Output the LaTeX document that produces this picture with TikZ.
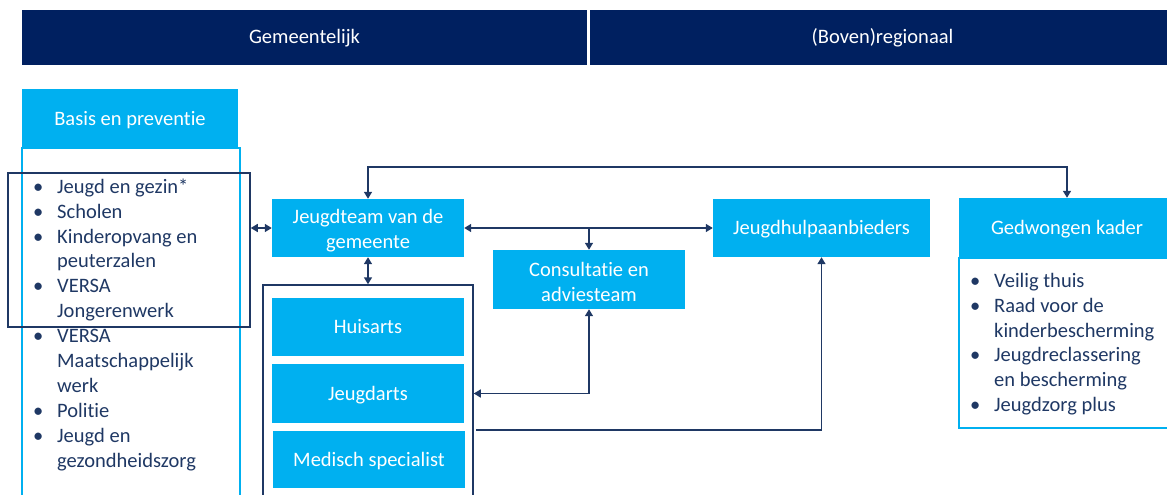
\documentclass[tikz,border=0pt]{standalone}
\usepackage{fontspec}
\setmainfont{Carlito}[Ligatures=NoCommon]
\usetikzlibrary{arrows.meta}
\definecolor{cy}{HTML}{00B0F0}
\definecolor{nv}{HTML}{002060}
\definecolor{ln}{HTML}{1F3864}
\newcommand\bitem[1]{\makebox[24pt][l]{•}#1}
\newcommand\bcont[1]{\hspace*{24pt}#1}
\newcommand\fstline{\rule{0pt}{19.5pt}}
\tikzset{
  fnt/.style={font=\fontsize{20.5}{24.9}\selectfont},
  cboxm/.style={fill=cy, draw=none, text=white, fnt, align=center, inner sep=0},
  cbox/.style={cboxm, text height=16pt, text depth=3pt},
  hbar/.style={fill=nv, text=white, fnt, inner sep=0, text height=16pt, text depth=3pt},
  frame/.style={draw=ln, line width=1.5pt, inner sep=0},
  lbox/.style={draw=cy, line width=2pt, inner sep=0},
  conn/.style={draw=ln, line width=1.5pt},
  ah/.tip={Triangle[width=8pt,length=7pt]},
  lst/.style={fnt, text=ln, align=left, anchor=north west, inner sep=0},
}
\begin{document}
\begin{tikzpicture}[x=1pt,y=-1pt]
\useasboundingbox (0,0) rectangle (1167,495);
% header bars
\node[hbar, minimum width=565, minimum height=55] (hl) at (304.5,37.5) {Gemeentelijk};
\node[hbar, minimum width=585, minimum height=55] (hr) at (882.5,37.5) {(Boven)regionaal};
% basis en preventie
\node[lbox, minimum width=218, minimum height=352] (bl) at (131,324) {};
\node[cbox, minimum width=216, minimum height=59] (bp) at (130,118.5) {Basis en preventie};
\node[lst] (bt) at (33,175.6) {\strut\bitem{Jeugd en gezin*}\\
\strut\bitem{Scholen}\\
\strut\bitem{Kinderopvang en}\\
\strut\bcont{peuterzalen}\\
\strut\bitem{VERSA}\\
\strut\bcont{Jongerenwerk}\\
\strut\bitem{VERSA}\\
\strut\bcont{Maatschappelijk}\\
\strut\bcont{werk}\\
\strut\bitem{Politie}\\
\strut\bitem{Jeugd en}\\
\strut\bcont{gezondheidszorg}};
\node[frame, minimum width=242, minimum height=154] (hlf) at (129,250) {};
% jeugdteam
\node[cboxm, minimum width=192, minimum height=58] (jt) at (368,228) {\fstline Jeugdteam van de\\gemeente};
% group of medical
\node[frame, minimum width=210, minimum height=215] (grp) at (368,392.5) {};
\node[cbox, minimum width=192, minimum height=58] (ha) at (368,327) {Huisarts};
\node[cbox, minimum width=192, minimum height=59] (ja) at (368,393.5) {Jeugdarts};
\node[cbox, minimum width=192, minimum height=57] (ms) at (369,459.5) {Medisch specialist};
% consultatie
\node[cboxm, minimum width=192, minimum height=59] (ca) at (589,279.5) {\fstline Consultatie en\\adviesteam};
% jeugdhulpaanbieders
\node[cbox, minimum width=217, minimum height=58] (jh) at (821.5,228) {Jeugdhulpaanbieders};
% gedwongen kader
\node[lbox, minimum width=216, minimum height=170] (gl) at (1067,343) {};
\node[cbox, minimum width=216, minimum height=60] (gk) at (1067,228) {Gedwongen kader};
\node[lst] (gt) at (970,269.6) {\strut\bitem{Veilig thuis}\\
\strut\bitem{Raad voor de}\\
\strut\bcont{kinderbescherming}\\
\strut\bitem{Jeugdreclassering}\\
\strut\bcont{en bescherming}\\
\strut\bitem{Jeugdzorg plus}};
% connectors
\coordinate (topc) at (700,167);
\coordinate (msc) at (476,430);
\draw[conn, {ah}-{ah}] (hlf.east |- jt.west) -- (jt.west);
\draw[conn, {ah}-{ah}] (jt.south) -- (grp.north);
\draw[conn, {ah}-{ah}] (jt.east) -- (jh.west);
\draw[conn, -{ah}] (ca.north |- jt.east) -- (ca.north);
\draw[conn, {ah}-{ah}] (grp.east |- ja.center) -| (ca.south);
\draw[conn, -{ah}] (msc) -| (jh.south);
\draw[conn, {ah}-{ah}] (jt.north) |- (topc) -| (gk.north);
\end{tikzpicture}
\end{document}
